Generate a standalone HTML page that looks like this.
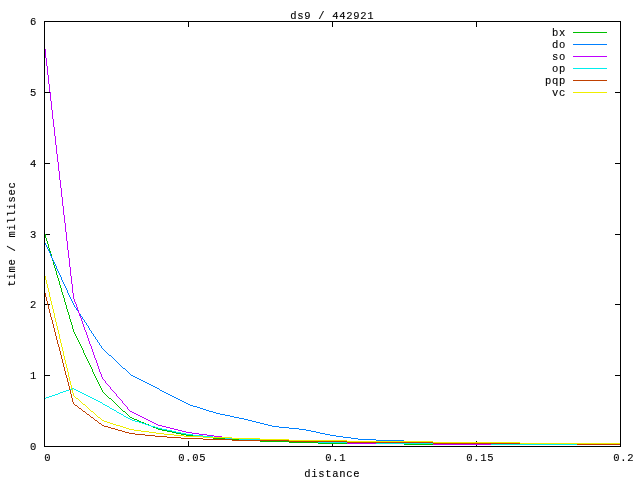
<!DOCTYPE html>
<html>
<head>
<meta charset="utf-8">
<title>ds9 / 442921</title>
<style>
html,body{margin:0;padding:0;background:#fff;}
body{width:640px;height:480px;overflow:hidden;}
svg{display:block;}
text{font-family:"Liberation Mono",monospace;font-size:10.5px;letter-spacing:0.7px;fill:#000;stroke:#000;stroke-width:0.12px;}
.ax{stroke:#000;stroke-width:1;fill:none;shape-rendering:crispEdges;}
.ln{fill:none;stroke-width:1;shape-rendering:crispEdges;}
</style>
</head>
<body>
<svg width="640" height="480" viewBox="0 0 640 480">
<rect x="0" y="0" width="640" height="480" fill="#ffffff"/>
<path class="ax" d="M44 446.5h6 M621 446.5h-6 M44 375.5h6 M621 375.5h-6 M44 304.5h6 M621 304.5h-6 M44 234.5h6 M621 234.5h-6 M44 163.5h6 M621 163.5h-6 M44 92.5h6 M621 92.5h-6 M44 21.5h6 M621 21.5h-6 M44.5 447v-6 M44.5 21v6 M188.5 447v-6 M188.5 21v6 M332.5 447v-6 M332.5 21v6 M476.5 447v-6 M476.5 21v6 M620.5 447v-6 M620.5 21v6"/>
<path class="ln" stroke="#00c000" d="M109 398.5H111M123 411.5H125M130 417.5H132M132 418.5H134M134 419.5H137M137 420.5H139M139 421.5H141M141 422.5H144M144 423.5H146M146 424.5H149M149 425.5H151M151 426.5H153M153 427.5H156M156 428.5H158M158 429.5H162M162 430.5H167M167 431.5H172M172 432.5H176M176 433.5H181M181 434.5H186M186 435.5H193M193 436.5H203M203 437.5H213M213 438.5H225M225 439.5H239M239 440.5H260M260 441.5H289M289 442.5H318M318 443.5H404M404 444.5H621M44.5 232V234M45.5 234V238M46.5 238V241M47.5 241V244M48.5 244V248M49.5 248V251M50.5 251V254M51.5 254V258M52.5 258V261M53.5 261V265M54.5 265V268M55.5 268V271M56.5 271V275M57.5 275V278M58.5 278V281M59.5 281V285M60.5 285V288M61.5 288V292M62.5 292V295M63.5 295V298M64.5 298V302M65.5 302V305M66.5 305V309M67.5 309V312M68.5 312V315M69.5 315V319M70.5 319V322M71.5 322V325M72.5 325V329M73.5 329V332M74.5 332V334M75.5 334V336M76.5 336V338M77.5 338V340M78.5 340V342M79.5 342V344M80.5 344V346M81.5 346V348M82.5 348V350M83.5 350V353M84.5 353V355M85.5 355V357M86.5 357V359M87.5 359V361M88.5 361V363M89.5 363V365M90.5 365V367M91.5 367V369M92.5 369V372M93.5 372V374M94.5 374V376M95.5 376V378M96.5 378V380M97.5 380V382M98.5 382V384M99.5 384V386M100.5 386V388M101.5 388V390M102.5 390V392M103.5 392V393M104.5 393V394M105.5 394V395M106.5 395V396M107.5 396V397M108.5 397V398M111.5 399V400M112.5 400V401M113.5 401V402M114.5 402V403M115.5 403V404M116.5 404V405M117.5 405V406M118.5 406V407M119.5 407V408M120.5 408V409M121.5 409V410M122.5 410V411M125.5 412V413M126.5 413V414M127.5 414V415M128.5 415V416M129.5 416V417"/>
<path class="ln" stroke="#0080ff" d="M109 355.5H111M123 368.5H125M131 375.5H133M133 376.5H135M135 377.5H137M137 378.5H139M139 379.5H141M141 380.5H143M143 381.5H145M145 382.5H147M147 383.5H149M149 384.5H151M151 385.5H153M153 386.5H155M155 387.5H157M157 388.5H159M160 390.5H162M162 391.5H164M164 392.5H166M166 393.5H168M168 394.5H170M170 395.5H172M172 396.5H174M174 397.5H176M176 398.5H178M178 399.5H180M180 400.5H182M182 401.5H184M184 402.5H186M186 403.5H188M188 404.5H190M190 405.5H193M193 406.5H197M197 407.5H200M200 408.5H203M203 409.5H206M206 410.5H209M209 411.5H213M213 412.5H216M216 413.5H220M220 414.5H225M225 415.5H230M230 416.5H234M234 417.5H239M239 418.5H244M244 419.5H248M248 420.5H252M252 421.5H256M256 422.5H260M260 423.5H264M264 424.5H268M268 425.5H272M272 426.5H279M279 427.5H289M289 428.5H299M299 429.5H306M306 430.5H311M311 431.5H316M316 432.5H320M320 433.5H325M325 434.5H330M330 435.5H336M336 436.5H343M343 437.5H351M351 438.5H358M358 439.5H376M376 440.5H404M404 441.5H433M433 442.5H462M462 443.5H520M520 444.5H621M44.5 241V243M45.5 243V245M46.5 245V247M47.5 247V249M48.5 249V251M49.5 251V253M50.5 253V256M51.5 256V258M52.5 258V260M53.5 260V262M54.5 262V264M55.5 264V266M56.5 266V269M57.5 269V271M58.5 271V273M59.5 273V275M60.5 275V277M61.5 277V280M62.5 280V282M63.5 282V284M64.5 284V286M65.5 286V288M66.5 288V290M67.5 290V293M68.5 293V295M69.5 295V297M70.5 297V299M71.5 299V301M72.5 301V303M73.5 303V305M74.5 305V307M75.5 307V308M76.5 308V310M77.5 310V311M78.5 311V313M79.5 313V314M80.5 314V316M81.5 316V317M82.5 317V319M83.5 319V320M84.5 320V322M85.5 322V323M86.5 323V325M87.5 325V326M88.5 326V328M89.5 328V330M90.5 330V331M91.5 331V333M92.5 333V334M93.5 334V336M94.5 336V337M95.5 337V339M96.5 339V340M97.5 340V342M98.5 342V343M99.5 343V345M100.5 345V346M101.5 346V348M102.5 348V349M103.5 349V350M104.5 350V351M105.5 351V352M106.5 352V353M107.5 353V354M108.5 354V355M111.5 356V357M112.5 357V358M113.5 358V359M114.5 359V360M115.5 360V361M116.5 361V362M117.5 362V363M118.5 363V364M119.5 364V365M120.5 365V366M121.5 366V367M122.5 367V368M125.5 369V370M126.5 370V371M127.5 371V372M128.5 372V373M129.5 373V374M130.5 374V375M159.5 389V390"/>
<path class="ln" stroke="#c000ff" d="M130 411.5H132M132 412.5H134M134 413.5H136M136 414.5H138M138 415.5H140M140 416.5H142M142 417.5H144M144 418.5H146M146 419.5H148M148 420.5H150M150 421.5H152M152 422.5H154M154 423.5H156M156 424.5H158M158 425.5H162M162 426.5H166M166 427.5H170M170 428.5H174M174 429.5H178M178 430.5H182M182 431.5H186M186 432.5H192M192 433.5H199M199 434.5H207M207 435.5H214M214 436.5H222M222 437.5H232M232 438.5H242M242 439.5H260M260 440.5H289M289 441.5H318M318 442.5H347M347 443.5H433M433 444.5H621M44.5 44V49M45.5 49V58M46.5 58V66M47.5 66V75M48.5 75V84M49.5 84V92M50.5 92V101M51.5 101V110M52.5 110V119M53.5 119V127M54.5 127V136M55.5 136V145M56.5 145V154M57.5 154V162M58.5 162V171M59.5 171V180M60.5 180V188M61.5 188V197M62.5 197V206M63.5 206V215M64.5 215V223M65.5 223V232M66.5 232V241M67.5 241V250M68.5 250V258M69.5 258V267M70.5 267V276M71.5 276V284M72.5 284V293M73.5 293V299M74.5 299V302M75.5 302V304M76.5 304V307M77.5 307V310M78.5 310V313M79.5 313V316M80.5 316V318M81.5 318V321M82.5 321V324M83.5 324V327M84.5 327V330M85.5 330V332M86.5 332V335M87.5 335V338M88.5 338V341M89.5 341V344M90.5 344V346M91.5 346V349M92.5 349V352M93.5 352V355M94.5 355V358M95.5 358V360M96.5 360V363M97.5 363V366M98.5 366V369M99.5 369V372M100.5 372V374M101.5 374V377M102.5 377V379M103.5 379V380M104.5 380V381M105.5 381V383M106.5 383V384M107.5 384V385M108.5 385V386M109.5 386V387M110.5 387V389M111.5 389V390M112.5 390V391M113.5 391V392M114.5 392V393M115.5 393V394M116.5 394V396M117.5 396V397M118.5 397V398M119.5 398V399M120.5 399V400M121.5 400V401M122.5 401V403M123.5 403V404M124.5 404V405M125.5 405V406M126.5 406V407M127.5 407V409M128.5 409V410M129.5 410V411"/>
<path class="ln" stroke="#00eeee" d="M44 398.5H46M46 397.5H49M49 396.5H52M52 395.5H55M55 394.5H58M58 393.5H60M60 392.5H63M63 391.5H66M66 390.5H69M69 389.5H72M72 388.5H74M74 389.5H76M76 390.5H78M78 391.5H80M80 392.5H82M82 393.5H84M84 394.5H86M86 395.5H88M88 396.5H90M90 397.5H92M92 398.5H94M94 399.5H96M96 400.5H98M98 401.5H100M100 402.5H102M103 404.5H105M105 405.5H107M107 406.5H109M110 408.5H112M112 409.5H114M114 410.5H116M117 412.5H119M119 413.5H121M121 414.5H123M124 416.5H126M126 417.5H128M128 418.5H130M130 419.5H132M132 420.5H135M135 421.5H139M139 422.5H142M142 423.5H145M145 424.5H148M148 425.5H151M151 426.5H155M155 427.5H158M158 428.5H162M162 429.5H167M167 430.5H172M172 431.5H176M176 432.5H181M181 433.5H186M186 434.5H193M193 435.5H203M203 436.5H213M213 437.5H225M225 438.5H239M239 439.5H260M260 440.5H289M289 441.5H318M318 442.5H376M376 443.5H491M491 444.5H621M102.5 403V404M109.5 407V408M116.5 411V412M123.5 415V416"/>
<path class="ln" stroke="#c04000" d="M75 405.5H77M79 408.5H81M83 411.5H85M87 414.5H89M91 417.5H93M95 420.5H97M99 423.5H101M102 425.5H104M104 426.5H108M108 427.5H111M111 428.5H115M115 429.5H118M118 430.5H122M122 431.5H125M125 432.5H129M129 433.5H135M135 434.5H145M145 435.5H155M155 436.5H167M167 437.5H181M181 438.5H203M203 439.5H232M232 440.5H289M289 441.5H347M347 442.5H433M433 443.5H577M577 444.5H621M44.5 291V293M45.5 293V297M46.5 297V301M47.5 301V305M48.5 305V309M49.5 309V313M50.5 313V317M51.5 317V320M52.5 320V324M53.5 324V328M54.5 328V332M55.5 332V336M56.5 336V340M57.5 340V344M58.5 344V347M59.5 347V351M60.5 351V355M61.5 355V359M62.5 359V363M63.5 363V367M64.5 367V371M65.5 371V375M66.5 375V378M67.5 378V382M68.5 382V386M69.5 386V390M70.5 390V394M71.5 394V398M72.5 398V402M73.5 402V404M74.5 404V405M77.5 406V407M78.5 407V408M81.5 409V410M82.5 410V411M85.5 412V413M86.5 413V414M89.5 415V416M90.5 416V417M93.5 418V419M94.5 419V420M97.5 421V422M98.5 422V423M101.5 424V425"/>
<path class="ln" stroke="#eeee00" d="M76 398.5H78M83 404.5H85M91 411.5H93M98 417.5H100M102 420.5H104M104 421.5H107M107 422.5H110M110 423.5H113M113 424.5H116M116 425.5H120M120 426.5H123M123 427.5H126M126 428.5H129M129 429.5H134M134 430.5H141M141 431.5H149M149 432.5H156M156 433.5H164M164 434.5H174M174 435.5H184M184 436.5H203M203 437.5H232M232 438.5H260M260 439.5H289M289 440.5H347M347 441.5H433M433 442.5H520M520 443.5H621M44.5 273V276M45.5 276V280M46.5 280V284M47.5 284V288M48.5 288V292M49.5 292V297M50.5 297V301M51.5 301V305M52.5 305V309M53.5 309V313M54.5 313V318M55.5 318V322M56.5 322V326M57.5 326V330M58.5 330V334M59.5 334V339M60.5 339V343M61.5 343V347M62.5 347V351M63.5 351V356M64.5 356V360M65.5 360V364M66.5 364V368M67.5 368V372M68.5 372V377M69.5 377V381M70.5 381V385M71.5 385V389M72.5 389V393M73.5 393V396M74.5 396V397M75.5 397V398M78.5 399V400M79.5 400V401M80.5 401V402M81.5 402V403M82.5 403V404M85.5 405V406M86.5 406V407M87.5 407V408M88.5 408V409M89.5 409V410M90.5 410V411M93.5 412V413M94.5 413V414M95.5 414V415M96.5 415V416M97.5 416V417M100.5 418V419M101.5 419V420"/>
<rect class="ax" x="44.5" y="21.5" width="576" height="425"/>
<text x="566" y="36" text-anchor="end">bx</text>
<path class="ln" stroke="#00c000" d="M573 32.5H607"/>
<text x="566" y="48" text-anchor="end">do</text>
<path class="ln" stroke="#0080ff" d="M573 44.5H607"/>
<text x="566" y="60" text-anchor="end">so</text>
<path class="ln" stroke="#c000ff" d="M573 56.5H607"/>
<text x="566" y="72" text-anchor="end">op</text>
<path class="ln" stroke="#00eeee" d="M573 68.5H607"/>
<text x="566" y="84" text-anchor="end">pqp</text>
<path class="ln" stroke="#c04000" d="M573 80.5H607"/>
<text x="566" y="96" text-anchor="end">vc</text>
<path class="ln" stroke="#eeee00" d="M573 92.5H607"/>
<text x="37" y="450" text-anchor="end">0</text>
<text x="37" y="379" text-anchor="end">1</text>
<text x="37" y="308" text-anchor="end">2</text>
<text x="37" y="238" text-anchor="end">3</text>
<text x="37" y="167" text-anchor="end">4</text>
<text x="37" y="96" text-anchor="end">5</text>
<text x="37" y="25" text-anchor="end">6</text>
<text x="44.3" y="461">0</text>
<text x="178.3" y="461">0.05</text>
<text x="325.3" y="461">0.1</text>
<text x="466.3" y="461">0.15</text>
<text x="613.3" y="461">0.2</text>
<text x="332.2" y="19" text-anchor="middle">ds9 / 442921</text>
<text x="332.2" y="477" text-anchor="middle">distance</text>
<text transform="translate(15 234) rotate(-90)" text-anchor="middle">time / millisec</text>
</svg>
</body>
</html>
